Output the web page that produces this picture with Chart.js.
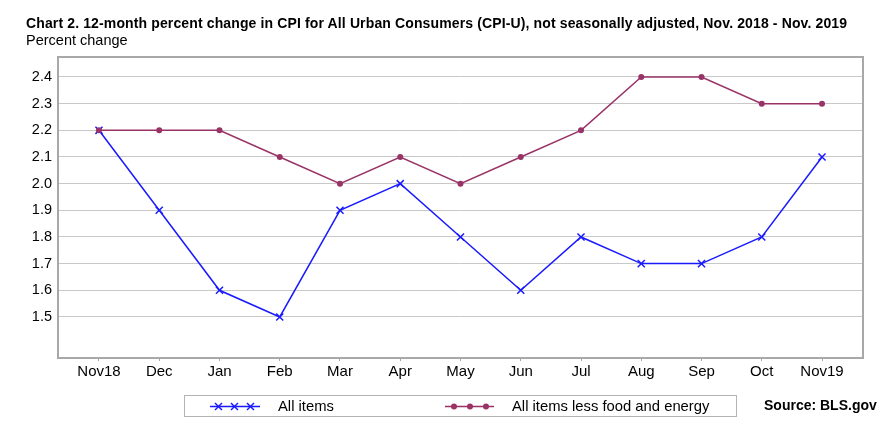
<!DOCTYPE html>
<html>
<head>
<meta charset="utf-8">
<script src="https://cdn.jsdelivr.net/npm/chart.js@4"></script>
<style>
  html, body { margin:0; padding:0; background:#fff; }
  body { width:888px; height:432px; position:relative; overflow:hidden; font-family:"Liberation Sans", Arial, sans-serif; }
  #wrap { position:absolute; left:0; top:0; width:888px; height:432px; }
  #title { position:absolute; left:26px; top:15px; font-size:14px; font-weight:bold; color:#000; white-space:nowrap; letter-spacing:0.13px; }
  #subtitle { position:absolute; left:26px; top:32px; font-size:14.5px; color:#000; white-space:nowrap; }
  #legend { position:absolute; left:184px; top:395px; width:553px; height:22px; border:1px solid #b4b4b4; box-sizing:border-box; }
  .item { position:absolute; top:0; height:20px; font-size:14.8px; line-height:20px; color:#000; white-space:nowrap; }
  .item svg { position:absolute; top:0; }
  #source { position:absolute; left:764px; top:397px; font-size:14px; font-weight:bold; color:#000; white-space:nowrap; }
</style>
</head>
<body>
<div id="wrap"><canvas id="c" width="888" height="432"></canvas></div>
<div id="title">Chart 2. 12-month percent change in CPI for All Urban Consumers (CPI-U), not seasonally adjusted, Nov. 2018 - Nov. 2019</div>
<div id="subtitle">Percent change</div>
<div id="legend">
  <div class="item" style="left:25px;width:130px;">
    <svg width="52" height="20" viewBox="0 0 52 20">
      <line x1="0" y1="10.5" x2="50" y2="10.5" stroke="#1a1aff" stroke-width="1.5"/>
      <g stroke="#1a1aff" stroke-width="1.5">
        <line x1="5" y1="7" x2="12" y2="14"/><line x1="12" y1="7" x2="5" y2="14"/>
        <line x1="21" y1="7" x2="28" y2="14"/><line x1="28" y1="7" x2="21" y2="14"/>
        <line x1="37" y1="7" x2="44" y2="14"/><line x1="44" y1="7" x2="37" y2="14"/>
      </g>
    </svg>
    <span style="position:absolute;left:68px;">All items</span>
  </div>
  <div class="item" style="left:260px;width:290px;">
    <svg width="52" height="20" viewBox="0 0 52 20">
      <line x1="0" y1="10.5" x2="49" y2="10.5" stroke="#993366" stroke-width="1.5"/>
      <circle cx="9" cy="10.5" r="3" fill="#993366"/>
      <circle cx="25" cy="10.5" r="3" fill="#993366"/>
      <circle cx="41" cy="10.5" r="3" fill="#993366"/>
    </svg>
    <span style="position:absolute;left:67px;">All items less food and energy</span>
  </div>
</div>
<div id="source">Source: BLS.gov</div>
<script>
const categories = ["Nov18","Dec","Jan","Feb","Mar","Apr","May","Jun","Jul","Aug","Sep","Oct","Nov19"];
const allItems = [2.2,1.9,1.6,1.5,1.9,2.0,1.8,1.6,1.8,1.7,1.7,1.8,2.1];
const coreItems = [2.2,2.2,2.2,2.1,2.0,2.1,2.0,2.1,2.2,2.4,2.4,2.3,2.3];
const yTicks = [1.5,1.6,1.7,1.8,1.9,2.0,2.1,2.2,2.3,2.4];

const toXY = arr => arr.map((v,i) => ({x:i, y:v}));

const borderPlugin = {
  id:'plotBorder',
  afterDraw(chart){
    const {ctx, chartArea:a} = chart;
    ctx.save();
    ctx.strokeStyle = '#a8a8a8';
    ctx.lineWidth = 2;
    ctx.strokeRect(a.left, a.top, a.right - a.left, a.bottom - a.top);
    ctx.restore();
  }
};

new Chart(document.getElementById('c'), {
  type:'line',
  data:{
    datasets:[
      { label:'All items less food and energy', data:toXY(coreItems), borderColor:'#993366', backgroundColor:'#993366',
        borderWidth:1.5, pointStyle:'circle', pointRadius:3, pointBorderWidth:0, tension:0 },
      { label:'All items', data:toXY(allItems), borderColor:'#1a1aff', backgroundColor:'#1a1aff',
        borderWidth:1.5, pointStyle:'crossRot', pointRadius:5, pointBorderWidth:1.5, tension:0 }
    ]
  },
  options:{
    responsive:false,
    animation:false,
    devicePixelRatio:1,
    layout:{ padding:{ left:0, top:57, right:25, bottom:0 } },
    plugins:{ legend:{ display:false }, tooltip:{ enabled:false }, title:{ display:false } },
    scales:{
      x:{
        type:'linear', min:-0.68, max:12.68,
        afterBuildTicks: s => { s.ticks = categories.map((c,i)=>({value:i})); },
        afterFit: s => { s.height = 74; },
        ticks:{ autoSkip:false, maxRotation:0, padding:2, color:'#000',
          font:{ family:'"Liberation Sans", Arial, sans-serif', size:15 },
          callback: v => categories[v] },
        grid:{ drawOnChartArea:false, drawTicks:true, tickLength:3, color:'#a8a8a8', lineWidth:1 },
        border:{ display:false }
      },
      y:{
        type:'linear', min:1.346, max:2.475,
        afterBuildTicks: s => { s.ticks = yTicks.map(v=>({value:v})); },
        afterFit: s => { s.width = 58; },
        ticks:{ padding:6, color:'#000', font:{ family:'"Liberation Sans", Arial, sans-serif', size:14.5 },
          callback: v => v.toFixed(1) },
        grid:{ drawTicks:false, color:'#c8c8c8', lineWidth:1 },
        border:{ display:false }
      }
    }
  },
  plugins:[borderPlugin]
});
</script>
</body>
</html>
